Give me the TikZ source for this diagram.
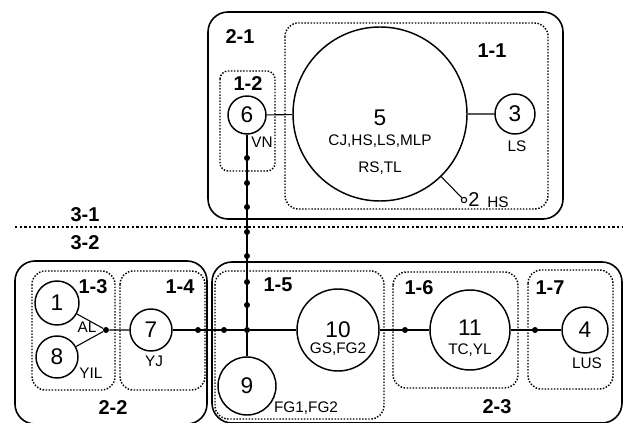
\documentclass[tikz,border=0pt]{standalone}
\usepackage{fontspec}
\setmainfont{Liberation Sans}
\usetikzlibrary{positioning}

\tikzset{
  site/.style={circle, draw, line width=1.1pt, inner sep=0pt, font=\fontsize{17}{17}\selectfont},
  num/.style={inner sep=0pt, font=\fontsize{17}{17}\selectfont},
  tag/.style={inner sep=0pt, font=\fontsize{11.5}{12}\selectfont},
  grp/.style={inner sep=0pt, font=\bfseries\fontsize{15}{15}\selectfont},
  hub/.style={circle, fill, inner sep=0pt, minimum size=4.5pt},
  outer/.style={draw, line width=1.2pt, rounded corners=15pt},
  inner/.style={draw, line width=1.1pt, dash pattern=on 1.1pt off 1.2pt, rounded corners=10pt},
  link/.style={line width=0.8pt},
}

\begin{document}
\begin{tikzpicture}[x=0.75pt, y=-0.75pt]
\useasboundingbox (0,0) rectangle (624,423);
% clusters
\draw[outer] (208,12) rectangle (563,219);
\draw[inner] (285,23) rectangle (548,209);
\draw[inner, rounded corners=6pt] (220,71) rectangle (275,171);
\draw[outer] (15,261) rectangle (207,424);
\draw[inner] (32,271) rectangle (115,390);
\draw[inner] (120,271) rectangle (205,390);
\draw[outer] (212,262) rectangle (622,423);
\draw[inner] (215,271) rectangle (384,419);
\draw[inner] (393,272) rectangle (518,388);
\draw[inner] (528,270) rectangle (613,389);
\draw[line width=2pt, dash pattern=on 1.8pt off 1.7pt] (15,227) -- (622,227);

\node[grp] (g21) at (240,37) {2-1};
\node[grp] (g11) at (492,51) {1-1};
\node[grp] (g12) at (248,84) {1-2};
\node[grp] (g31) at (85,215) {3-1};
\node[grp] (g32) at (85,243) {3-2};
\node[grp] (g13) at (93,287) {1-3};
\node[grp] (g14) at (180,287) {1-4};
\node[grp] (g22) at (113,408) {2-2};
\node[grp] (g15) at (278,285) {1-5};
\node[grp] (g16) at (419,288) {1-6};
\node[grp] (g17) at (550,288) {1-7};
\node[grp] (g23) at (497,407) {2-3};

% upper sites
\node[site, minimum size=130.5pt] (n5) at (380,114) {};
\node[num] (t5) at (380,118) {5};
\node[tag] (l5a) at (380,141) {CJ,HS,LS,MLP};
\node[tag] (l5b) at (380,168) {RS,TL};
\node[site, minimum size=28.5pt] (n6) at (247,115) {6};
\node[tag] (l6) at (262,142) {VN};
\node[site, minimum size=30pt] (n3) at (515,114) {3};
\node[tag] (l3) at (517,146) {LS};
\node[circle, draw, line width=0.8pt, inner sep=0pt, minimum size=4pt] (n2) at (464,200) {};
\node[inner sep=0pt, font=\fontsize{15}{15}\selectfont] (t2) at (474,200) {2};
\node[tag] (l2) at (498,202) {HS};

% lower sites
\node[site, minimum size=33pt] (n1) at (57,303) {1};
\node[tag] (l1) at (87,327) {AL};
\node[site, minimum size=31.5pt] (n8) at (57,357) {8};
\node[tag] (l8) at (91,373) {YIL};
\node[site, minimum size=31.5pt] (n7) at (151,330) {7};
\node[tag] (l7) at (154,361) {YJ};
\node[site, minimum size=43.5pt] (n9) at (247,386) {9};
\node[tag] (l9) at (306,408) {FG1,FG2};
\node[site, minimum size=61.5pt] (n10) at (338,330) {};
\node[num] (t10) at (338,330) {10};
\node[tag] (l10) at (338,349) {GS,FG2};
\node[site, minimum size=60pt] (n11) at (470,330) {};
\node[num] (t11) at (470,328) {11};
\node[tag] (l11) at (470,350) {TC,YL};
\node[site, minimum size=34.5pt] (n4) at (585,330) {4};
\node[tag] (l4) at (587,363) {LUS};

% joins
\node[hub] (jL) at (106,330) {};
\node[hub] (jC) at (247,330) {};
\foreach \y in {158,183,207,232,256,282,305}
  \node[hub] (v\y) at (247,\y) {};
\foreach \x in {198,224,405,535}
  \node[hub] (h\x) at (\x,330) {};

\draw[link] (n6) -- (n5) (n5) -- (n3) (n5) -- (n2);
\draw[link] (n6) -- (jC) -- (n9);
\draw[link] (n1) -- (jL) (n8) -- (jL) (jL) -- (n7);
\draw[link] (n7) -- (jC) -- (n10) -- (n11) -- (n4);
\end{tikzpicture}
\end{document}
